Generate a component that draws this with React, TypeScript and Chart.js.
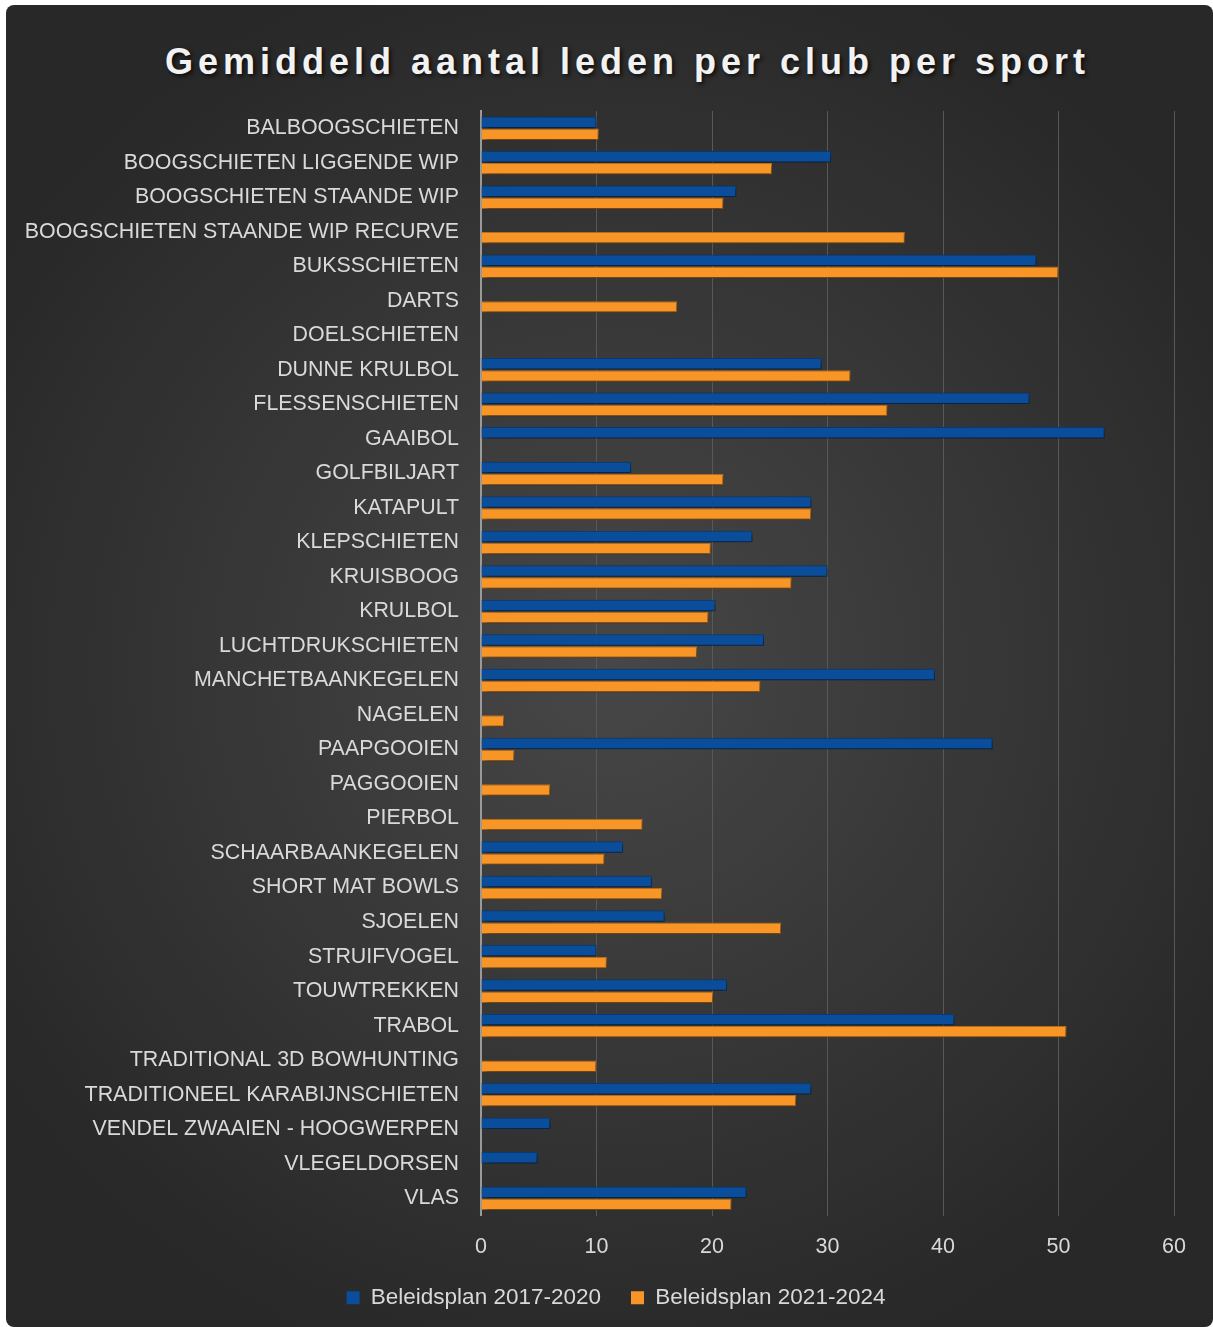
import React, { useEffect, useRef } from "react";
import { Chart, registerables } from "chart.js";

Chart.register(...registerables);

const categories = [
  "BALBOOGSCHIETEN",
  "BOOGSCHIETEN LIGGENDE WIP",
  "BOOGSCHIETEN STAANDE WIP",
  "BOOGSCHIETEN STAANDE WIP RECURVE",
  "BUKSSCHIETEN",
  "DARTS",
  "DOELSCHIETEN",
  "DUNNE KRULBOL",
  "FLESSENSCHIETEN",
  "GAAIBOL",
  "GOLFBILJART",
  "KATAPULT",
  "KLEPSCHIETEN",
  "KRUISBOOG",
  "KRULBOL",
  "LUCHTDRUKSCHIETEN",
  "MANCHETBAANKEGELEN",
  "NAGELEN",
  "PAAPGOOIEN",
  "PAGGOOIEN",
  "PIERBOL",
  "SCHAARBAANKEGELEN",
  "SHORT MAT BOWLS",
  "SJOELEN",
  "STRUIFVOGEL",
  "TOUWTREKKEN",
  "TRABOL",
  "TRADITIONAL 3D BOWHUNTING",
  "TRADITIONEEL KARABIJNSCHIETEN",
  "VENDEL ZWAAIEN - HOOGWERPEN",
  "VLEGELDORSEN",
  "VLAS",
];

const series2017 = [
  10.0, 30.3, 22.1, null, 48.1, null, null, 29.5, 47.5, 54.0, 13.0, 28.6, 23.5,
  30.0, 20.3, 24.5, 39.3, null, 44.3, null, null, 12.3, 14.8, 15.9, 10.0, 21.3,
  41.0, null, 28.6, 6.0, 4.9, 23.0,
];

const series2021 = [
  10.2, 25.2, 21.0, 36.7, 50.0, 17.0, null, 32.0, 35.2, null, 21.0, 28.6, 19.9,
  26.9, 19.7, 18.7, 24.2, 2.0, 2.9, 6.0, 14.0, 10.7, 15.7, 26.0, 10.9, 20.1,
  50.7, 10.0, 27.3, null, null, 21.7,
];

const seriesNames = ["Beleidsplan 2017-2020", "Beleidsplan 2021-2024"];
const xMin = 0;
const xMax = 60;
const xStep = 10;

const FONT = "'Liberation Sans', Arial, sans-serif";

const shadowPlugin = {
  id: "barShadow",
  beforeDatasetsDraw(chart: any) {
    const ctx = chart.ctx;
    ctx.save();
    ctx.shadowColor = "rgba(0,0,0,0.55)";
    ctx.shadowBlur = 6;
    ctx.shadowOffsetX = 3;
    ctx.shadowOffsetY = 3;
  },
  afterDatasetsDraw(chart: any) {
    chart.ctx.restore();
  },
};

const legendShiftPlugin = {
  id: "legendShift",
  afterUpdate(chart: any) {
    const lg = chart.legend;
    if (lg) {
      lg.left += 26;
      lg.right += 26;
    }
  },
};

export default function App() {
  const canvasRef = useRef<HTMLCanvasElement | null>(null);

  useEffect(() => {
    if (!canvasRef.current) return;
    const chart = new Chart(canvasRef.current, {
      type: "bar",
      data: {
        labels: categories,
        datasets: [
          {
            label: seriesNames[0],
            data: series2017,
            backgroundColor: "#0a4e9b",
            borderColor: "#083f7e",
            borderWidth: 1,
            categoryPercentage: 0.7,
            barPercentage: 0.95,
          },
          {
            label: seriesNames[1],
            data: series2021,
            backgroundColor: "#f79526",
            borderColor: "#c8741a",
            borderWidth: 1,
            categoryPercentage: 0.7,
            barPercentage: 0.95,
          },
        ],
      },
      options: {
        indexAxis: "y",
        animation: false,
        responsive: false,
        maintainAspectRatio: false,
        layout: { padding: { left: 0, right: 39, top: 106, bottom: 8 } },
        plugins: {
          title: { display: false },
          tooltip: { enabled: false },
          legend: {
            position: "bottom",
            labels: {
              color: "#d9d9d9",
              font: { family: FONT, size: 22.5 },
              boxWidth: 13,
              boxHeight: 13,
              padding: 30,
              useBorderRadius: false,
              generateLabels: (chart: any) =>
                chart.data.datasets.map((ds: any, i: number) => ({
                  text: ds.label,
                  fillStyle: ds.backgroundColor,
                  strokeStyle: ds.backgroundColor,
                  lineWidth: 0,
                  fontColor: "#d9d9d9",
                  hidden: false,
                  datasetIndex: i,
                })),
            },
          },
        },
        scales: {
          x: {
            min: xMin,
            max: xMax,
            ticks: {
              stepSize: xStep,
              color: "#d9d9d9",
              font: { family: FONT, size: 21.5 },
              padding: 19,
            },
            grid: {
              color: "#585858",
              lineWidth: 1,
              drawTicks: false,
            },
            border: { display: false },
            afterFit: (scale: any) => {
              scale.height = 41;
            },
          },
          y: {
            ticks: {
              color: "#d9d9d9",
              font: { family: FONT, size: 21.4 },
              padding: 22,
              autoSkip: false,
            },
            grid: { display: false, drawTicks: false },
            border: { display: true, color: "#9a9a9a", width: 2 },
            afterFit: (scale: any) => {
              scale.width = 475;
            },
          },
        },
      },
      plugins: [shadowPlugin, legendShiftPlugin],
    });
    return () => chart.destroy();
  }, []);

  return (
    <div
      style={{
        position: "absolute",
        left: 6,
        top: 5,
        width: 1207,
        height: 1322,
        borderRadius: 8,
        overflow: "hidden",
        background:
          "radial-gradient(ellipse 60% 55% at 50% 50%, #474747 0%, #363636 55%, #282828 100%)",
      }}
    >
      <div
        style={{
          position: "absolute",
          left: 18,
          top: 34,
          width: 1207,
          textAlign: "center",
          fontFamily: FONT,
          fontWeight: 700,
          fontSize: 36,
          letterSpacing: 5,
          color: "#f2f2f2",
          textShadow: "2px 2px 4px rgba(0,0,0,0.75)",
          lineHeight: "46px",
        }}
      >
        Gemiddeld aantal leden per club per sport
      </div>
      <canvas
        ref={canvasRef}
        width={1207}
        height={1322}
        style={{ position: "absolute", left: 0, top: 0 }}
      />
    </div>
  );
}
